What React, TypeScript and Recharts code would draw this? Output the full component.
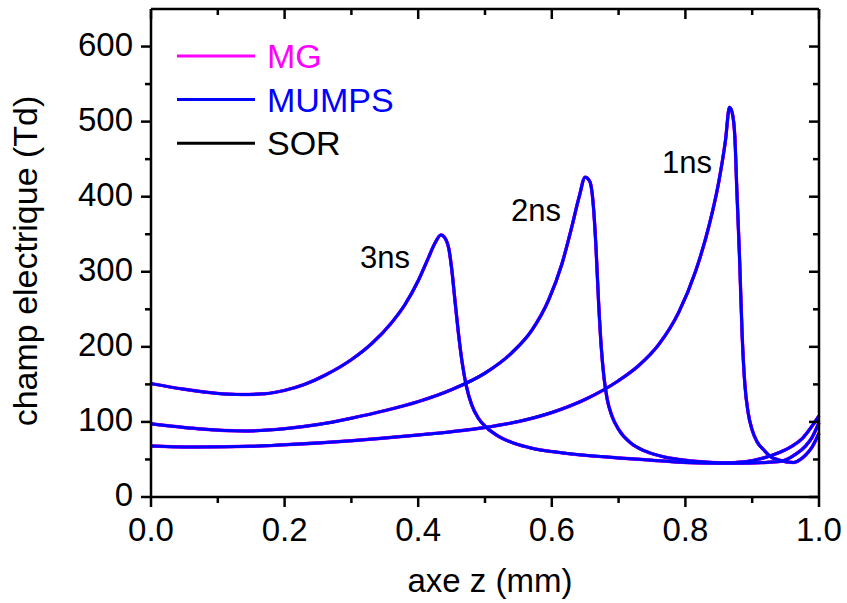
import React from 'react';
import { LineChart, Line, XAxis, YAxis, ReferenceDot, ReferenceLine } from 'recharts';

// positions along the gap (mm) and reduced field (Td)
const z1ns = [0, 0.07, 0.15, 0.2, 0.3, 0.4, 0.45, 0.5, 0.55, 0.6, 0.65, 0.7, 0.73, 0.76, 0.79, 0.815, 0.835, 0.85, 0.86, 0.866, 0.87, 0.874, 0.877, 0.881, 0.885, 0.889, 0.894, 0.9, 0.907, 0.917, 0.927, 0.937, 0.95, 0.962, 0.972, 0.98, 0.99, 1.0];
const e1ns = [68, 66.5, 67.5, 69.5, 75, 82.5, 87, 92.5, 100.5, 112.5, 130, 155, 175, 203, 246, 300, 360, 420, 475, 519, 512, 480, 409, 320, 215, 150, 112, 89, 74, 63, 54, 50, 47, 46, 50, 56, 67, 85];

const z2ns = [0, 0.07, 0.14, 0.2, 0.25, 0.3, 0.35, 0.4, 0.45, 0.5, 0.54, 0.57, 0.595, 0.615, 0.63, 0.641, 0.65, 0.657, 0.662, 0.666, 0.67, 0.674, 0.678, 0.683, 0.69, 0.7, 0.718, 0.74, 0.77, 0.8, 0.84, 0.88, 0.92, 0.945, 0.965, 0.98, 0.99, 1.0];
const e2ns = [97.5, 91, 88, 91, 96.5, 105, 115, 127, 143, 165, 192, 222, 262, 310, 360, 400, 426, 420, 390, 335, 260, 200, 160, 130, 108, 90, 72, 61, 53, 49, 46, 45, 46, 48, 57, 68, 80, 99];

const z3ns = [0, 0.05, 0.1, 0.136, 0.17, 0.2, 0.23, 0.26, 0.3, 0.33, 0.36, 0.38, 0.4, 0.415, 0.425, 0.434, 0.44, 0.446, 0.45, 0.455, 0.46, 0.466, 0.472, 0.48, 0.49, 0.503, 0.52, 0.545, 0.57, 0.6, 0.65, 0.7, 0.75, 0.8, 0.85, 0.89, 0.917, 0.94, 0.96, 0.975, 0.99, 1.0];
const e3ns = [151, 143.5, 138, 136.5, 137.5, 142, 150, 162, 183, 204, 232, 256, 288, 318, 338, 349, 345, 330, 305, 262, 220, 178, 148, 123, 105, 92, 81, 71, 65, 60.5, 55.5, 52, 49, 46, 45, 47, 52, 59, 68, 78, 95, 108];

const solvers = ['MG', 'MUMPS', 'SOR'];
const solverColors = ['#ff00ff', '#0000ff', '#000000'];

const xMajor = [0, 0.2, 0.4, 0.6, 0.8, 1.0];
const xMinor = [0.1, 0.3, 0.5, 0.7, 0.9];
const yMajor = [0, 100, 200, 300, 400, 500, 600];
const yMinor = [50, 150, 250, 350, 450, 550];

const curveLabels = ['1ns', '2ns', '3ns'];
const labelZ = [0.765, 0.539, 0.313];
const labelE = [432, 367, 305];

const X_MAX = 1;
const Y_MAX = 650;
const PLOT_W = 668;
const PLOT_H = 488;

const FONT = '"Liberation Sans", Arial, sans-serif';
const frameStroke = { stroke: '#000', strokeWidth: 2.5 };

const toPoints = (z: number[], e: number[]) => z.map((v, i) => ({ z: v, e: e[i] }));
const curves = [toPoints(z1ns, e1ns), toPoints(z2ns, e2ns), toPoints(z3ns, e3ns)];

// draw order: SOR under, MG, MUMPS on top
const drawOrder = [2, 0, 1];

// tick marks: out on bottom/left, in on top/right (lengths in px turned into data units)
const dx = (px: number) => (px * X_MAX) / PLOT_W;
const dy = (px: number) => (px * Y_MAX) / PLOT_H;
const tickSegments = [
  ...xMajor.map((v) => ({ v, len: 10 })),
  ...xMinor.map((v) => ({ v, len: 6 })),
].flatMap(({ v, len }) => [
  [{ x: v, y: 0 }, { x: v, y: -dy(len) }],
  [{ x: v, y: Y_MAX }, { x: v, y: Y_MAX - dy(len) }],
]).concat(
  [...yMajor.map((v) => ({ v, len: 10 })), ...yMinor.map((v) => ({ v, len: 6 }))].flatMap(({ v, len }) => [
    [{ x: 0, y: v }, { x: -dx(len), y: v }],
    [{ x: X_MAX, y: v }, { x: X_MAX - dx(len), y: v }],
  ])
);

const BottomLabel = ({ x, y, payload }: any) => (
  <text x={x} y={y + 44} textAnchor="middle" fontSize={33} fontFamily={FONT} fill="#000">
    {payload.value.toFixed(1)}
  </text>
);

const LeftLabel = ({ x, y, payload }: any) => (
  <text x={x - 18} y={y + 9} textAnchor="end" fontSize={33} fontFamily={FONT} fill="#000">
    {payload.value}
  </text>
);

function App() {
  return (
    <div style={{ position: 'absolute', left: 0, top: 0, width: 847, height: 603, background: '#fff' }}>
      <LineChart width={847} height={603} margin={{ top: 8, right: 27, left: 0, bottom: 0 }}>
        <XAxis
          dataKey="z"
          type="number"
          domain={[0, X_MAX]}
          ticks={xMajor}
          interval={0}
          tickSize={0}
          tickMargin={0}
          tickLine={false}
          tick={<BottomLabel />}
          height={106}
          axisLine={frameStroke}
          label={{
            content: () => (
              <text x={490} y={592} textAnchor="middle" fontSize={33} fontFamily={FONT} fill="#000">
                axe z (mm)
              </text>
            ),
          }}
        />
        <XAxis
          xAxisId="top"
          dataKey="z"
          orientation="top"
          type="number"
          domain={[0, X_MAX]}
          allowDataOverflow
          ticks={xMajor}
          tickLine={false}
          tick={false}
          height={1}
          axisLine={frameStroke}
        />
        <YAxis
          type="number"
          domain={[0, Y_MAX]}
          ticks={yMajor}
          interval={0}
          tickSize={0}
          tickMargin={0}
          tickLine={false}
          tick={<LeftLabel />}
          width={151}
          axisLine={frameStroke}
          label={{
            content: () => (
              <text
                transform="translate(37,261) rotate(-90)"
                textAnchor="middle"
                fontSize={34}
                fontFamily={FONT}
                fill="#000"
              >
                champ electrique (Td)
              </text>
            ),
          }}
        />
        <YAxis
          yAxisId="right"
          orientation="right"
          type="number"
          domain={[0, Y_MAX]}
          allowDataOverflow
          ticks={yMajor}
          tickLine={false}
          tick={false}
          width={1}
          axisLine={frameStroke}
        />
        {drawOrder.map((s) =>
          curves.map((pts, c) => (
            <Line
              key={`${solvers[s]}-${c}`}
              data={pts}
              dataKey="e"
              name={solvers[s]}
              type="monotone"
              stroke={solverColors[s]}
              strokeWidth={s === 0 ? 3.4 : 3}
              dot={false}
              activeDot={false}
              isAnimationActive={false}
            />
          ))
        )}
        {/* invisible series so the top and right frame axes get drawn */}
        <Line
          xAxisId="top"
          yAxisId="right"
          data={curves[0]}
          dataKey="e"
          stroke="none"
          dot={false}
          activeDot={false}
          legendType="none"
          isAnimationActive={false}
        />
        {tickSegments.map((seg, i) => (
          <ReferenceLine key={`t${i}`} segment={seg} ifOverflow="visible" stroke="#000" strokeWidth={2.5} />
        ))}
        {curveLabels.map((t, i) => (
          <ReferenceDot
            key={t}
            x={labelZ[i]}
            y={labelE[i]}
            r={0}
            shape={(p: any) => (
              <text x={p.cx} y={p.cy} fontSize={31} fontFamily={FONT} fill="#000">
                {t}
              </text>
            )}
          />
        ))}
      </LineChart>
      {/* legend */}
      <svg width={420} height={170} style={{ position: 'absolute', left: 0, top: 0 }}>
        {solvers.map((name, i) => (
          <g key={name}>
            <line x1={177} x2={255} y1={56 + i * 43.6} y2={56 + i * 43.6} stroke={solverColors[i]} strokeWidth={3} />
            <text x={267} y={68 + i * 43.6} fontSize={34} fontFamily={FONT} fill={solverColors[i]}>
              {name}
            </text>
          </g>
        ))}
      </svg>
    </div>
  );
}

export default App;
